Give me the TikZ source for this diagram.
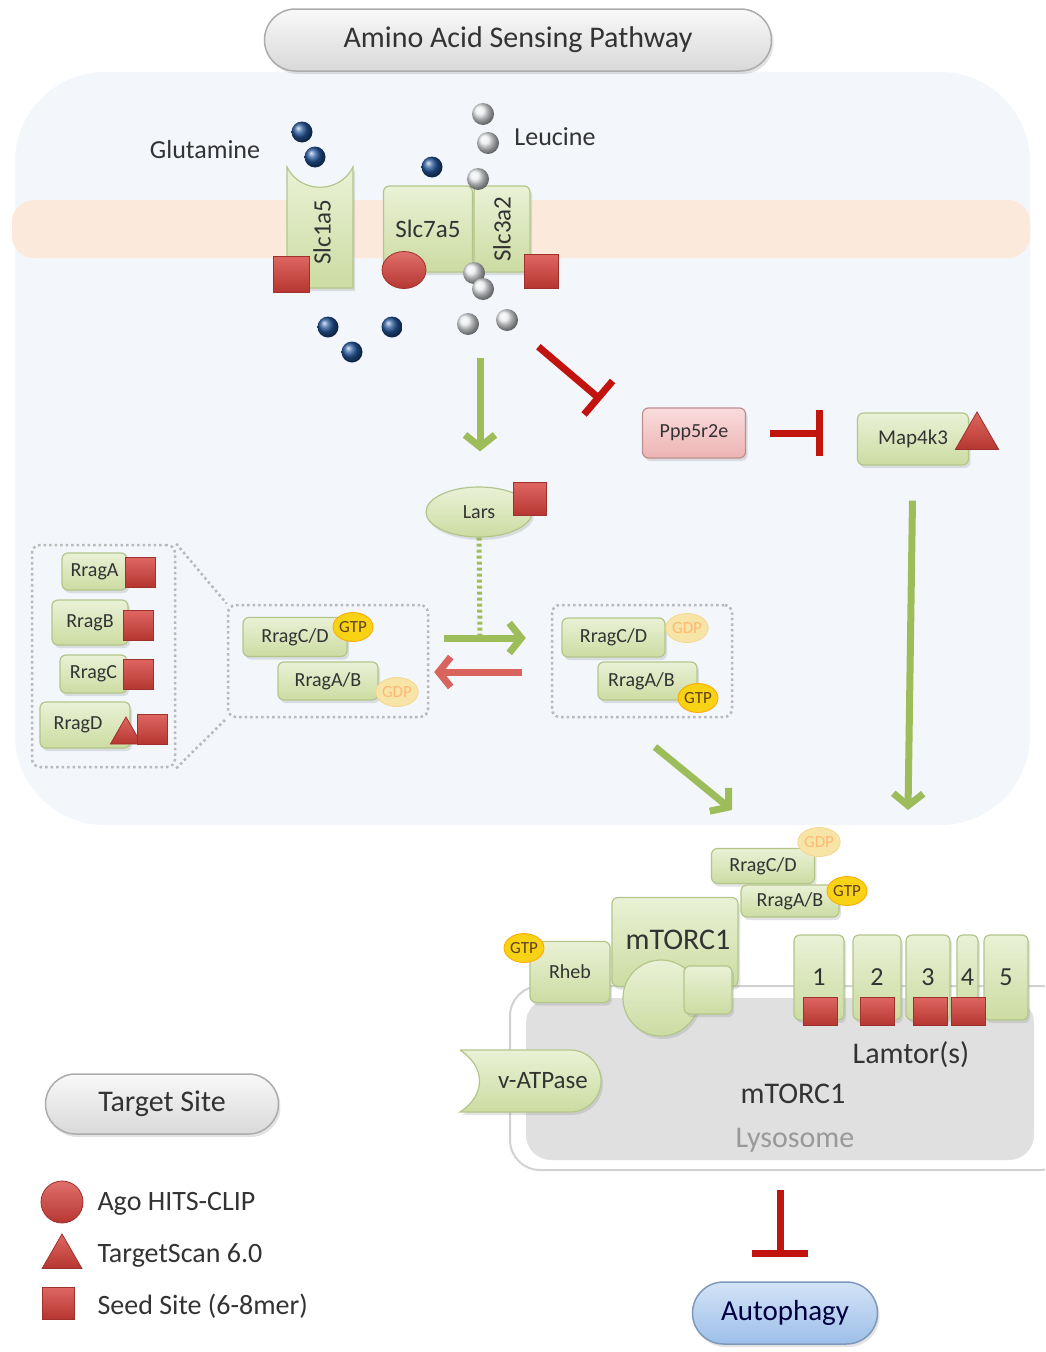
\documentclass[tikz,border=0pt]{standalone}
\usepackage{fontspec}
\setmainfont{Carlito}
\usetikzlibrary{arrows.meta,shapes.geometric,shadows}

\definecolor{protlight}{HTML}{EAF1D6}
\definecolor{protfill}{HTML}{CCDCA2}
\definecolor{protedge}{HTML}{B3C68A}
\definecolor{sitered}{HTML}{D6403A}
\definecolor{inhred}{HTML}{C2140E}
\definecolor{backred}{HTML}{D9635D}
\definecolor{actgreen}{HTML}{9DBD5B}
\definecolor{cellbg}{HTML}{F3F6FB}
\definecolor{membrane}{HTML}{FBEADC}
\definecolor{gtpyel}{HTML}{F8D215}
\definecolor{gdpyel}{HTML}{F6E5A6}
\definecolor{glnblue}{HTML}{24569A}
\definecolor{leugray}{HTML}{E9EBEE}
\definecolor{lysogray}{HTML}{E0E0E0}
\definecolor{pinklight}{HTML}{FADCDC}
\definecolor{pinkfill}{HTML}{EDB3B3}
\definecolor{autolight}{HTML}{D3E3F6}
\definecolor{autofill}{HTML}{9DBFE8}

\newcommand{\fsz}[1]{\fontsize{#1}{#1}\selectfont}

\tikzset{
  softshadow/.style={drop shadow={opacity=0.22, shadow xshift=2pt, shadow yshift=-3pt}},
  prot/.style={rectangle, draw=protedge, line width=1.2pt, rounded corners=6pt,
    top color=protlight, bottom color=protfill, inner sep=0pt, softshadow},
  protball/.style={circle, draw=protedge, line width=1.2pt,
    top color=protlight, bottom color=protfill, inner sep=0pt, softshadow},
  seedsite/.style={rectangle, draw=sitered!75!black, line width=0.8pt,
    top color=sitered!80!white, bottom color=sitered!85!black, minimum size=#1, inner sep=0pt},
  seedsite/.default=32pt,
  agosite/.style={ellipse, draw=sitered!75!black, line width=0.8pt,
    top color=sitered!75!white, bottom color=sitered!85!black, inner sep=0pt},
  tssite/.style={regular polygon, regular polygon sides=3, draw=sitered!75!black, line width=0.8pt,
    top color=sitered!80!white, bottom color=sitered!85!black, minimum size=#1, inner sep=0pt},
  tssite/.default=44pt,
  gtp/.style={ellipse, draw=orange!70!yellow, line width=0.8pt, fill=gtpyel, minimum width=40pt,
    minimum height=29pt, inner sep=0pt, font=\fsz{17}, text=brown!50!black},
  gdp/.style={ellipse, draw=gdpyel!85!orange, line width=0.8pt, fill=gdpyel, minimum width=40pt,
    minimum height=29pt, inner sep=0pt, font=\fsz{17}, text=orange!55!white},
  pill/.style={rectangle, rounded corners=#1, draw=gray!65, line width=1.5pt,
    top color=gray!5, bottom color=gray!30, inner sep=0pt, softshadow},
  glnball/.style={circle, minimum size=21pt, inner sep=0pt, ball color=glnblue},
  leuball/.style={circle, minimum size=22pt, inner sep=0pt, ball color=leugray},
  activ/.style={draw=actgreen, line width=7pt, -{Straight Barb[length=12pt,width=30pt]}},
  inhib/.style={draw=inhred, line width=7pt, -{Bar[width=#1]}},
  inhib/.default=44pt,
  dotbox/.style={draw=gray!55, line width=2.5pt, dash pattern=on 2.5pt off 3pt, rounded corners=8pt},
  every node/.style={text=black!80}
}

\begin{document}
\begin{tikzpicture}[x=1pt, y=-1pt]
  \useasboundingbox (0,0) rectangle (1045,1352);
  \fill[white] (0,0) rectangle (1045,1352);

  % cell and membrane
  \fill[cellbg, rounded corners=90pt] (15,72) rectangle (1030,825);
  \fill[membrane, rounded corners=22pt] (12,200) rectangle (1030,258);

  \node[pill=31pt, minimum width=507pt, minimum height=62pt, font=\fsz{30}] (title) at (518,40) {Amino Acid Sensing Pathway};

  % transporters
  \path[draw=protedge, line width=1.2pt, top color=protlight, bottom color=protfill, softshadow]
    (287,167) .. controls (300,194) and (340,194) .. (353,167) -- (353,288) -- (287,288) -- cycle;
  \node[rotate=90, font=\fsz{25}] (slc1a5) at (322,232) {Slc1a5};
  \node[prot, minimum width=89pt, minimum height=86pt, font=\fsz{25}] (slc7a5) at (428,229) {Slc7a5};
  \node[prot, minimum width=56pt, minimum height=86pt] (slc3a2) at (502,229) {\rotatebox{90}{\fsz{25}Slc3a2}};
  \node[seedsite=36pt] (slc1a5site) at (291,274) {};
  \node[agosite, minimum width=44pt, minimum height=37pt] (slc7a5site) at (404,270) {};
  \node[seedsite=34pt] (slc3a2site) at (541,271) {};

  % amino acids
  \foreach \x/\y [count=\i] in {302/132, 315/157, 432/167, 328/327, 352/352, 392/327}
    \node[glnball] (gln\i) at (\x,\y) {};
  \foreach \x/\y [count=\i] in {483/114, 488/143, 478/179, 474/273, 483/289, 468/324, 507/320}
    \node[leuball] (leu\i) at (\x,\y) {};
  \node[font=\fsz{26}] (glnlabel) at (205,150) {Glutamine};
  \node[font=\fsz{26}] (leulabel) at (555,137) {Leucine};

  % Ppp5r2e / Map4k3 branch
  \node[rectangle, draw=pinkfill!80!black, line width=1.2pt, rounded corners=6pt, top color=pinklight,
    bottom color=pinkfill, inner sep=0pt, softshadow, minimum width=103pt, minimum height=50pt,
    font=\fsz{20}] (ppp5r2e) at (694,433) {Ppp5r2e};
  \node[prot, minimum width=111pt, minimum height=52pt, font=\fsz{21}] (map4k3) at (913,439) {Map4k3};
  \node[tssite=50pt] (map4k3site) at (977,437) {};
  \coordinate (pppstop) at (601,400);
  \draw[inhib, shorten <=30pt] (leu7) -- (pppstop);
  \draw[inhib=46pt, shorten <=24pt, shorten >=34pt] (ppp5r2e.east) -- (ppp5r2e.east -| map4k3.west);

  % Lars
  \coordinate (aadown) at (480,358);
  \node[ellipse, draw=protedge, line width=1.2pt, top color=protlight, bottom color=protfill,
    inner sep=0pt, softshadow, minimum width=106pt, minimum height=50pt, font=\fsz{20}] (lars) at (479,512) {Lars};
  \node[seedsite=33pt] (larssite) at (530,499) {};
  \draw[activ, shorten >=35pt] (aadown) -- (aadown |- lars.north);

  % Rrag family
  \node[dotbox, minimum width=143pt, minimum height=222pt] (rragall) at (103.5,656) {};
  \node[dotbox, minimum width=200pt, minimum height=112pt] (rragoff) at (328,661) {};
  \node[dotbox, minimum width=180pt, minimum height=112pt] (rragon) at (642,661) {};
  \draw[dotbox] (rragall.north east) -- (rragoff.north west);
  \draw[dotbox] (rragall.south east) -- (rragoff.south west);

  \node[prot, minimum width=65pt, minimum height=37pt, font=\fsz{20}] (rraga) at (94.5,571.5) {RragA};
  \node[seedsite=30pt] (rragasite) at (140,572) {};
  \node[prot, minimum width=76pt, minimum height=45pt, font=\fsz{20}] (rragb) at (90,622.5) {RragB};
  \node[seedsite=30pt] (rragbsite) at (138,625) {};
  \node[prot, minimum width=67pt, minimum height=38pt, font=\fsz{20}] (rragc) at (93.5,674) {RragC};
  \node[seedsite=30pt] (rragcsite) at (138,674) {};
  \node[prot, minimum width=90pt, minimum height=46pt, font=\fsz{20}] (rragd) at (85,725) {RragD\hspace*{14pt}};
  \node[tssite=36pt] (rragdts) at (126,735) {};
  \node[seedsite=30pt] (rragdsite) at (152,729) {};

  \node[prot, minimum width=104pt, minimum height=39pt, font=\fsz{20}] (offcd) at (295,637) {RragC/D};
  \node[gtp] (offgtp) at (353,627) {GTP};
  \node[prot, minimum width=100pt, minimum height=38pt, font=\fsz{20}] (offab) at (328,681) {RragA/B};
  \node[gdp] (offgdp) at (397,692) {GDP};

  \node[prot, minimum width=103pt, minimum height=39pt, font=\fsz{20}] (oncd) at (613.5,637.5) {RragC/D};
  \node[gdp] (ongdp) at (687,628) {GDP};
  \node[prot, minimum width=99pt, minimum height=38pt, font=\fsz{20}] (onab) at (647.5,681) {RragA/B\hspace*{12pt}};
  \node[gtp] (ongtp) at (698,698) {GTP};

  \coordinate (swap) at (480,638);
  \draw[actgreen, line width=5pt, dash pattern=on 3pt off 3pt] (lars.south) -- (swap);
  \draw[activ, shorten <=15pt, shorten >=25pt] ([yshift=23pt]rragoff.east) -- ([yshift=23pt]rragon.west);
  \draw[backred, line width=7pt, -{Straight Barb[length=12pt,width=30pt]}, shorten <=29pt, shorten >=5pt]
    ([yshift=-11pt]rragon.west) -- ([yshift=-11pt]rragoff.east);

  % towards the lysosome
  \coordinate (onstart) at (655,747);
  \coordinate (ondock) at (732,810);
  \coordinate (mapdock) at (908,810);
  \draw[activ] (onstart) -- (ondock);
  \draw[activ, shorten <=35pt] (map4k3.south) -- (mapdock);

  % lysosome
  \begin{scope}
    \clip (0,0) rectangle (1045,1352);
    \draw[gray!35, line width=2pt, fill=white, rounded corners=30pt] (510,986) rectangle (1070,1170);
    \fill[lysogray, rounded corners=25pt] (526,998) rectangle (1034,1160);
  \end{scope}
  \foreach \x/\w/\n in {819/50/1, 877/48/2, 928/44/3, 967.5/21/4, 1006/44/5}
    \node[prot, minimum width=\w pt, minimum height=85pt, font=\fsz{26}] (lamtor\n) at (\x,977.5) {\n};
  \foreach \x/\n in {820/1, 877/2, 930/3, 968/4}
    \node[seedsite, minimum width=34pt, minimum height=28pt] (lamsite\n) at (\x,1011) {};

  \node[prot, minimum width=80pt, minimum height=61pt, font=\fsz{20}] (rheb) at (570,972) {Rheb};
  \node[gtp] (rhebgtp) at (524,948) {GTP};
  \node[prot, minimum width=126pt, minimum height=89pt] (mtorbox) at (675,942) {};
  \node[font=\fsz{30}] (mtorlabel) at (678,940) {mTORC1};
  \node[protball, minimum size=76pt] (mtorball) at (661,998) {};
  \node[prot, minimum size=48pt] (mtorsq) at (708,990) {};
  \node[prot, minimum width=103pt, minimum height=35pt, font=\fsz{20}] (dockcd) at (763,866) {RragC/D};
  \node[gdp] (dockgdp) at (819,842) {GDP};
  \node[prot, minimum width=98pt, minimum height=32pt, font=\fsz{20}] (dockab) at (790,901) {RragA/B};
  \node[gtp] (dockgtp) at (847,891) {GTP};

  \path[draw=protedge, line width=1.2pt, top color=protlight, bottom color=protfill, softshadow]
    (460,1050) -- (570,1050) arc (-90:90:31) -- (460,1112) .. controls (486,1095) and (486,1067) .. (460,1050);
  \node[font=\fsz{25}] (vatpase) at (543,1081) {v-ATPase};
  \node[font=\fsz{30}] (lamtorlabel) at (911,1055) {Lamtor(s)};
  \node[font=\fsz{30}] (mtorc1label) at (793,1094) {mTORC1};
  \node[font=\fsz{30}, text=gray!80] (lysolabel) at (795,1140) {Lysosome};

  % autophagy
  \coordinate (lysobot) at (780,1190);
  \node[rectangle, rounded corners=31pt, draw=autofill!80!black, line width=1.5pt, top color=autolight,
    bottom color=autofill, inner sep=0pt, softshadow, minimum width=185pt, minimum height=62pt,
    font=\fsz{29}, text=black!75!blue] (autophagy) at (785,1313) {Autophagy};
  \draw[inhib=56pt, shorten >=24pt] (lysobot) -- (lysobot |- autophagy.north);

  % legend
  \node[pill=30pt, minimum width=233pt, minimum height=60pt, font=\fsz{30}] (targetsite) at (162,1104) {Target Site};
  \node[agosite, minimum width=42pt, minimum height=42pt] (legago) at (62,1202) {};
  \node[anchor=west, font=\fsz{28}] (legagotext) at (94,1204) {Ago HITS-CLIP};
  \node[tssite=46pt] (legts) at (62,1257) {};
  \node[anchor=west, font=\fsz{28}] (legtstext) at (94,1255) {TargetScan 6.0};
  \node[seedsite=32pt] (legseed) at (58,1303) {};
  \node[anchor=west, font=\fsz{28}] (legseedtext) at (94,1306) {Seed Site (6-8mer)};
\end{tikzpicture}
\end{document}
